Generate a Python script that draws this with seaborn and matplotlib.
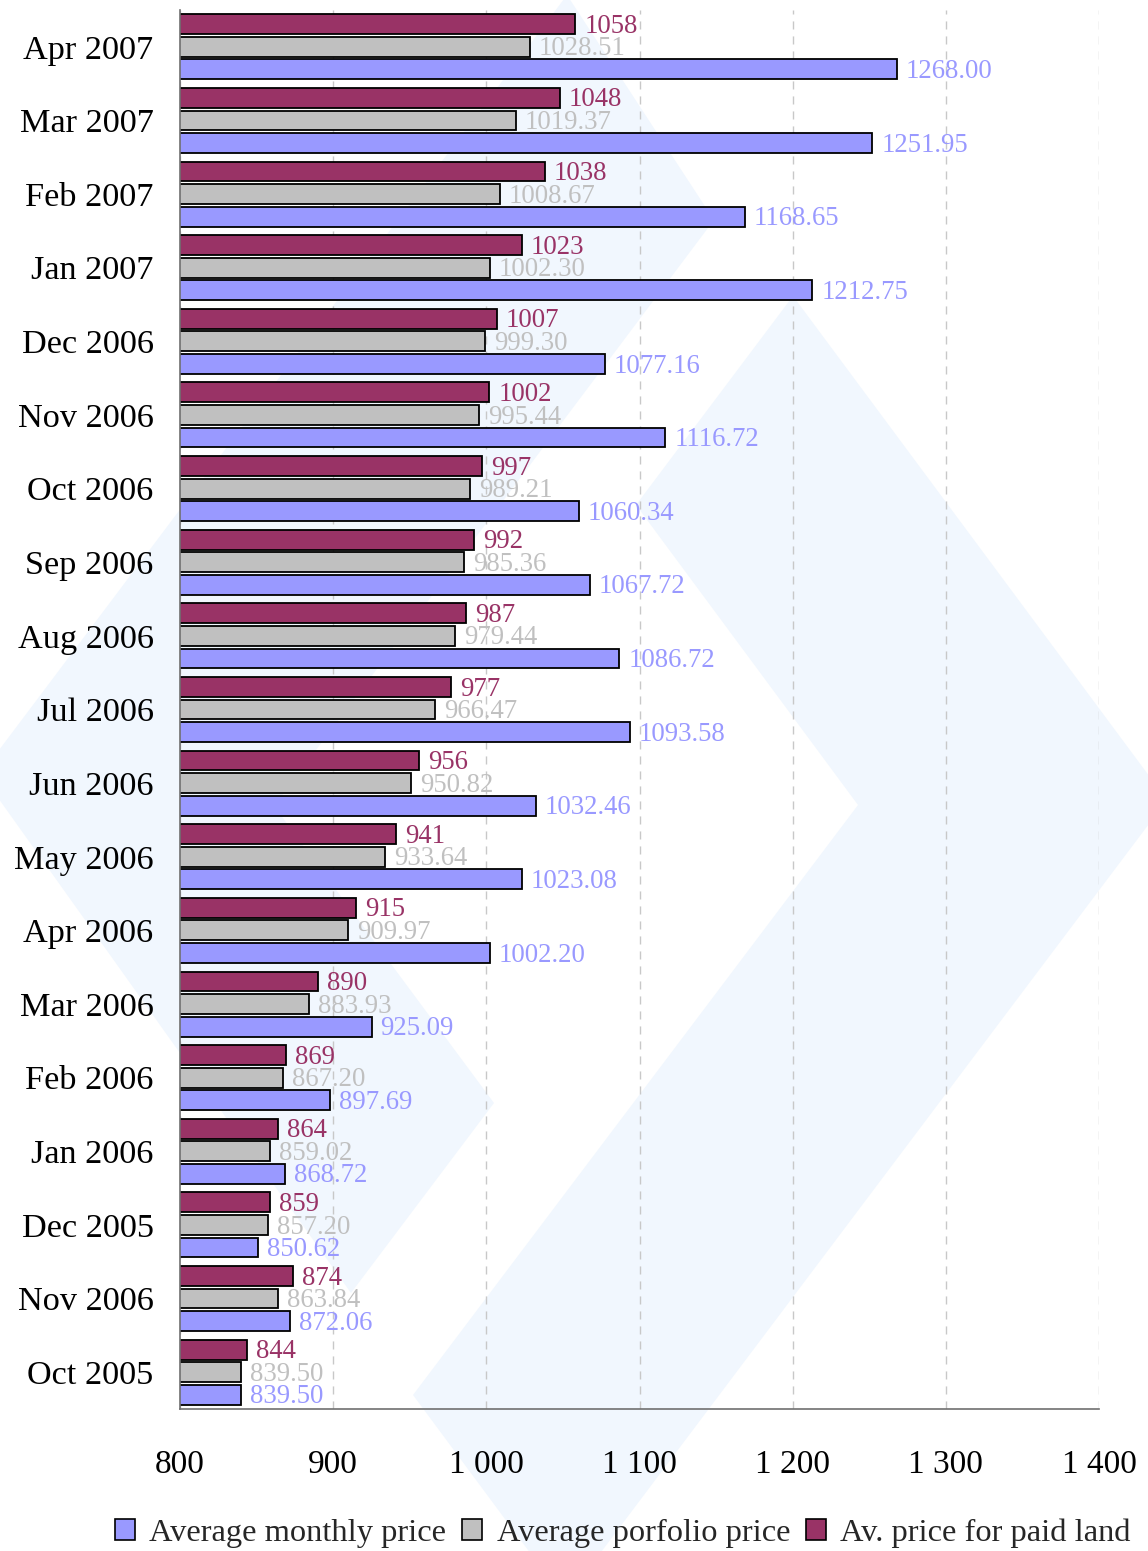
import numpy as np
import pandas as pd
import matplotlib
matplotlib.use("Agg")
import matplotlib.pyplot as plt
import seaborn as sns
from matplotlib.patches import Patch, Polygon
from matplotlib.colors import to_hex
from matplotlib.ticker import FuncFormatter

# data, top to bottom as in the chart
months = ["Apr 2007", "Mar 2007", "Feb 2007", "Jan 2007", "Dec 2006", "Nov 2006",
          "Oct 2006", "Sep 2006", "Aug 2006", "Jul 2006", "Jun 2006", "May 2006",
          "Apr 2006", "Mar 2006", "Feb 2006", "Jan 2006", "Dec 2005", "Nov 2006",
          "Oct 2005"]
paid_land = [1058, 1048, 1038, 1023, 1007, 1002, 997, 992, 987, 977, 956, 941,
             915, 890, 869, 864, 859, 874, 844]
portfolio = [1028.51, 1019.37, 1008.67, 1002.30, 999.30, 995.44, 989.21, 985.36,
             979.44, 966.47, 950.82, 933.64, 909.97, 883.93, 867.20, 859.02,
             857.20, 863.84, 839.50]
monthly = [1268.00, 1251.95, 1168.65, 1212.75, 1077.16, 1116.72, 1060.34, 1067.72,
           1086.72, 1093.58, 1032.46, 1023.08, 1002.20, 925.09, 897.69, 868.72,
           850.62, 872.06, 839.50]
x_ticks = [800, 900, 1000, 1100, 1200, 1300, 1400]

s_monthly = "Average monthly price"
s_portfolio = "Average porfolio price"
s_paid = "Av. price for paid land"

colors = {s_paid: "#993366", s_portfolio: "#c0c0c0", s_monthly: "#9999ff"}

# "Nov 2006" appears twice in the source, so rows are keyed by position
keys = [f"r{i:02d}" for i in range(len(months))]
df = pd.concat([
    pd.DataFrame({"row": keys, "price": paid_land, "series": s_paid}),
    pd.DataFrame({"row": keys, "price": portfolio, "series": s_portfolio}),
    pd.DataFrame({"row": keys, "price": monthly, "series": s_monthly}),
])

sns.set_theme(style="white")
plt.rcParams["font.family"] = ["Liberation Serif", "DejaVu Serif"]

W, H = 1148, 1551
fig = plt.figure(figsize=(W / 100, H / 100), dpi=100)
ax = fig.add_axes([180 / W, 1 - 1409 / H, (1099 - 180) / W, (1409 - 10) / H])
ax.patch.set_alpha(0)

# light blue chevron watermark in the background (pixel coords)
def px(points):
    return [(x / W, 1 - y / H) for x, y in points]

wm = "#f1f7fe"
left_chev = [(567, -5), (714, 220), (274, 806), (494, 1103), (351, 1293), (-19, 774)]
right_chev = [(793, 296), (1167, 800), (565, 1600), (413, 1395), (858, 805), (636, 505)]
for pts in (left_chev, right_chev):
    fig.add_artist(Polygon(px(pts), closed=True, facecolor=wm, edgecolor="none",
                           transform=fig.transFigure, zorder=-5))

hue_order = [s_paid, s_portfolio, s_monthly]
sns.barplot(data=df, y="row", x="price", hue="series", hue_order=hue_order,
            order=keys, palette=colors, saturation=1, orient="h", width=0.92,
            gap=0.12, errorbar=None, edgecolor="black", linewidth=1.3,
            legend=False, ax=ax)

ax.set_xlim(800, 1400)
ax.set_xticks(x_ticks)
ax.xaxis.set_major_formatter(FuncFormatter(lambda v, p: f"{int(v):,}".replace(",", " ")))
ax.set_yticks(range(len(months)))
ax.set_yticklabels(months)
ax.set_xlabel("")
ax.set_ylabel("")

ax.grid(axis="x", color="#c8c8c8", linestyle=(0, (5.8, 5)), linewidth=1)
ax.set_axisbelow(True)

for side in ("top", "right"):
    ax.spines[side].set_visible(False)
for side in ("left", "bottom"):
    ax.spines[side].set_color("#707070")
    ax.spines[side].set_linewidth(1.2)

ax.set_yticks(np.arange(-0.5, len(months)), minor=True)
ax.tick_params(axis="y", which="major", length=0, pad=19, labelsize=24.7, labelcolor="black")
ax.tick_params(axis="y", which="minor", length=7.5, width=1.1, color="#707070", direction="out")
ax.tick_params(axis="x", which="major", length=7.5, width=1.1, color="#707070",
               direction="out", pad=22, labelsize=24, labelcolor="black")

# value labels next to each bar
fmt = {s_paid: "{:.0f}", s_portfolio: "{:.2f}", s_monthly: "{:.2f}"}
by_color = {to_hex(c): n for n, c in colors.items()}
for p in ax.patches:
    name = by_color.get(to_hex(p.get_facecolor()))
    if name is None or p.get_height() <= 0:
        continue
    val = p.get_x() + p.get_width()
    yc = p.get_y() + p.get_height() / 2
    ax.annotate(fmt[name].format(val), (val, yc), xytext=(6.5, -1.5),
                textcoords="offset points", va="center", ha="left",
                color=colors[name], fontsize=19.3)

handles = [Patch(facecolor=colors[n], edgecolor="black", linewidth=1.2)
           for n in (s_monthly, s_portfolio, s_paid)]
fig.legend(handles, [s_monthly, s_portfolio, s_paid], loc="center",
           bbox_to_anchor=(623 / W, 1 - 1533 / H), ncol=3, frameon=False,
           fontsize=23.4, handlelength=0.6, handleheight=0.6, handletextpad=0.45,
           columnspacing=0.5, borderaxespad=0)

fig.savefig("out.png", dpi=100)
